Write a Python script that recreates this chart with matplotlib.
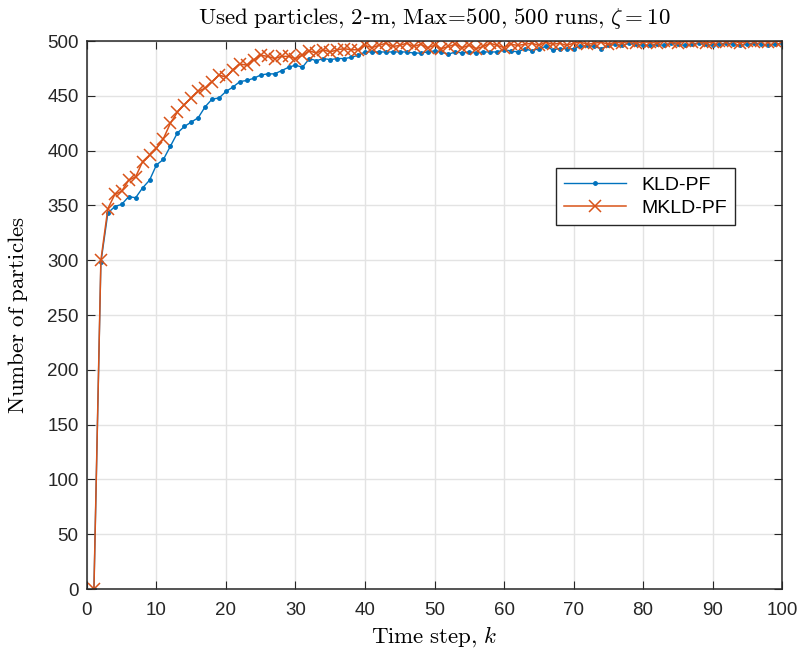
import matplotlib
matplotlib.use('agg')
import matplotlib.pyplot as plt
import numpy as np

plt.rcParams.update({
    "font.family": "sans-serif",
    "font.sans-serif": ["Liberation Sans", "DejaVu Sans"],
    "mathtext.fontset": "cm",
    "font.size": 13,
})

# time steps and used particles per step
k = np.arange(1, 101)
kld_pf = [0, 298, 343, 349, 351, 358, 357, 366, 373, 387,
          392, 404, 416, 422, 426, 430, 440, 447, 448, 454,
          458, 463, 464, 466, 469, 470, 470, 473, 476, 478,
          476, 484, 482, 484, 483, 484, 484, 485, 487, 490,
          490, 490, 490, 490, 490, 490, 489, 489, 490, 491,
          490, 488, 490, 489, 490, 489, 490, 490, 490, 492,
          491, 490, 493, 491, 493, 495, 492, 493, 493, 493,
          495, 496, 495, 493, 496, 497, 496, 498, 497, 496,
          496, 497, 496, 498, 497, 496, 497, 498, 497, 496,
          497, 498, 497, 496, 497, 498, 497, 496, 497, 498]
mkld_pf = [0, 300, 347, 360, 363, 373, 376, 390, 396, 402,
           411, 425, 435, 442, 448, 454, 457, 463, 469, 467,
           474, 479, 478, 483, 487, 486, 484, 486, 486, 484,
           487, 491, 489, 492, 490, 492, 493, 492, 492, 496,
           494, 496, 498, 495, 496, 498, 495, 497, 494, 496,
           493, 495, 497, 494, 496, 493, 495, 498, 496, 494,
           497, 496, 497, 498, 496, 499, 497, 498, 496, 498,
           499, 497, 498, 499, 497, 499, 498, 500, 498, 499,
           499, 498, 500, 499, 498, 500, 499, 500, 498, 499,
           500, 499, 500, 498, 500, 499, 500, 499, 500, 500]

fig = plt.figure(figsize=(8.01, 6.52), dpi=100)
ax = fig.add_axes([0.1086, 0.0966, 0.8677, 0.8405])

ax.plot(k, kld_pf, color='#0072BD', marker='.', markersize=5, linewidth=1.0, label='KLD-PF')
ax.plot(k, mkld_pf, color='#D95319', marker='x', markersize=9, markeredgewidth=1.1,
        linewidth=1.1, label='MKLD-PF')

ax.set_xlim(0, 100)
ax.set_ylim(0, 500)
ax.set_xticks(np.arange(0, 101, 10))
ax.set_yticks(np.arange(0, 501, 50))
ax.grid(True, color='#e3e3e3', linewidth=1)
ax.set_axisbelow(True)
ax.tick_params(direction='in', top=True, right=True, length=6, color='#262626',
               labelcolor='#262626', labelsize=13.5)
ax.tick_params(axis='x', pad=9)
ax.tick_params(axis='y', pad=6)
for s in ax.spines.values():
    s.set_color('#262626')
    s.set_linewidth(1.1)

ax.set_title(r"$\mathrm{Used\ particles{,}\ 2}$-$\mathrm{m{,}\ Max\!=\!500{,}\ 500\ runs{,}}\ \zeta=10$",
             fontsize=16.5, pad=12)
ax.set_xlabel(r"$\mathrm{Time\ step{,}}\ k$", fontsize=16.5, labelpad=4)
ax.set_ylabel(r"$\mathrm{Number\ of\ particles}$", fontsize=16.5, labelpad=12)

leg = ax.legend(loc='upper left', bbox_to_anchor=(0.675, 0.768), borderaxespad=0,
                fancybox=False, edgecolor='#262626', framealpha=1, fontsize=14,
                handlelength=3.2, borderpad=0.4, labelspacing=0.3)
leg.get_frame().set_linewidth(1)

fig.savefig("out.png", dpi=100)
